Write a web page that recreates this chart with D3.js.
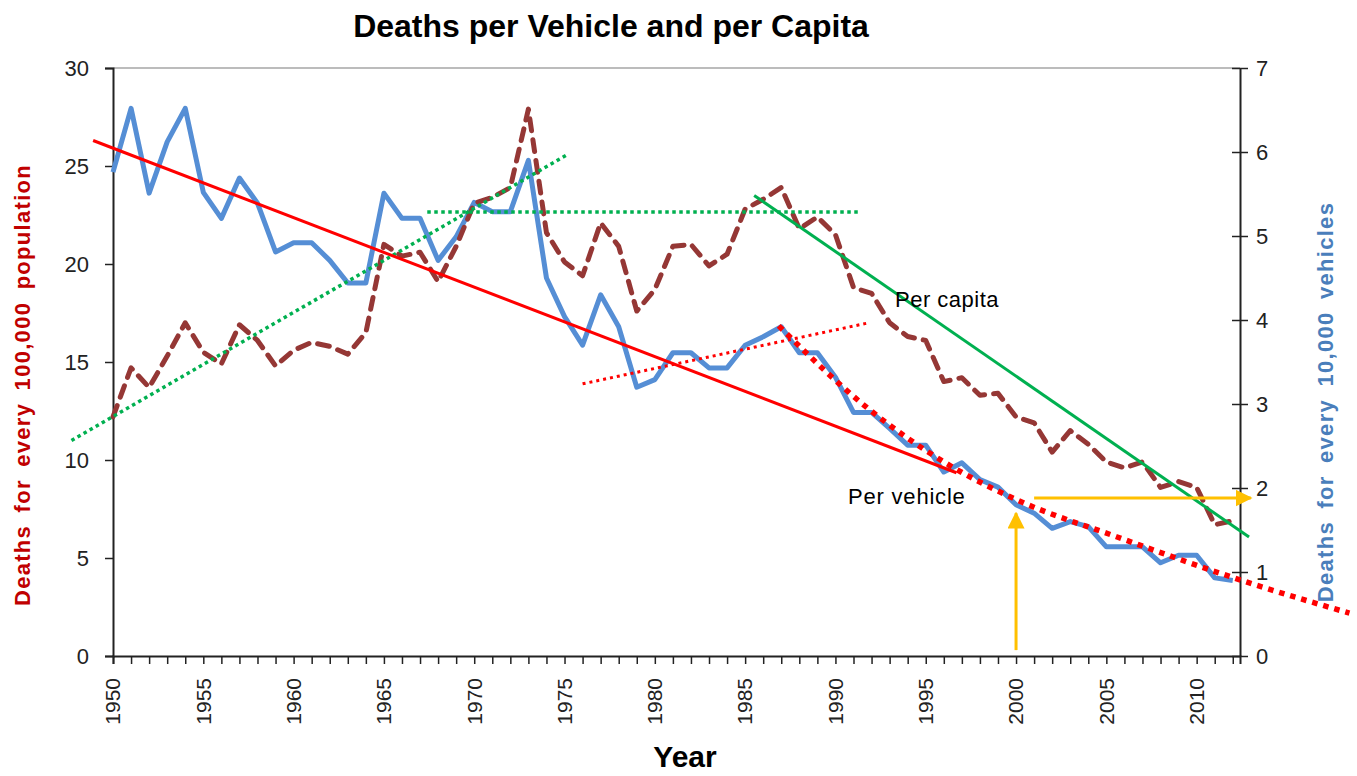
<!DOCTYPE html>
<html>
<head>
<meta charset="utf-8">
<script src="https://cdn.jsdelivr.net/npm/d3@7"></script>
<style>
  body { margin: 0; background: #fff; }
  svg { font-family: "Liberation Sans", Arial, sans-serif; }
</style>
</head>
<body>
<svg width="1357" height="776"></svg>
<script>
// categories
const years = d3.range(1950, 2013);
// deaths per 100,000 population (left axis)
const perCapita = [12.2, 14.7, 13.7, 15.3, 17.0, 15.5, 14.9, 16.9, 16.1, 14.8,
  15.6, 16.0, 15.8, 15.4, 16.5, 21.0, 20.4, 20.6, 19.1, 20.9,
  23.1, 23.4, 23.9, 27.9, 21.6, 20.1, 19.4, 22.1, 20.9, 17.6,
  18.7, 20.9, 21.0, 19.9, 20.5, 22.8, 23.3, 23.9, 21.8, 22.4,
  21.5, 18.8, 18.5, 17.0, 16.3, 16.1, 14.0, 14.2, 13.3, 13.4,
  12.2, 11.9, 10.4, 11.5, 10.8, 9.9, 9.6, 9.9, 8.6, 8.9,
  8.6, 6.7, 6.9];
// deaths per 10,000 vehicles (right axis)
const perVehicle = [5.76, 6.52, 5.51, 6.12, 6.52, 5.52, 5.21, 5.69, 5.39, 4.81,
  4.92, 4.92, 4.71, 4.44, 4.44, 5.51, 5.21, 5.21, 4.71, 4.99,
  5.40, 5.29, 5.29, 5.90, 4.50, 4.04, 3.70, 4.30, 3.92, 3.20,
  3.29, 3.61, 3.61, 3.43, 3.43, 3.70, 3.80, 3.92, 3.61, 3.61,
  3.32, 2.90, 2.90, 2.71, 2.51, 2.51, 2.19, 2.30, 2.10, 2.01,
  1.80, 1.70, 1.52, 1.60, 1.54, 1.30, 1.30, 1.30, 1.11, 1.20,
  1.20, 0.93, 0.90];

const leftTicks = [0, 5, 10, 15, 20, 25, 30];
const rightTicks = [0, 1, 2, 3, 4, 5, 6, 7];
const yearLabels = [1950, 1955, 1960, 1965, 1970, 1975, 1980, 1985, 1990, 1995, 2000, 2005, 2010];

// hand drawn trend lines, [year, value]
const capitaRise = [[1947.7, 11.0], [1975.2, 25.6]];       // left axis
const capitaFlat = [[1967.4, 22.65], [1991.4, 22.65]];     // left axis
const capitaFall = [[1985.5, 23.5], [2012.9, 6.07]];       // left axis
const vehicleFall = [[1948.9, 26.3], [1996.7, 9.35]];      // left axis
const vehicleRise = [[1976.0, 3.24], [1991.7, 3.96]];      // right axis
const vehicleCurve = [[1986.86, 3.93], [1991.73, 2.96], [1996.32, 2.27], [2000.03, 1.86],
  [2005.56, 1.42], [2012.92, 0.87], [2018.46, 0.51]];        // right axis
const arrowUp = [[2000, 0.07], [2000, 1.7]];               // right axis
const arrowRight = [[2001, 1.88], [2013, 1.88]];           // right axis

const svg = d3.select("svg");

const plotLeft = 113, plotRight = 1240, plotTop = 68, plotBottom = 656;

const x = d3.scaleLinear().domain([1950, 2012.4]).range([plotLeft, plotRight]);
const yL = d3.scaleLinear().domain([0, 30]).range([plotBottom, plotTop]);
const yR = d3.scaleLinear().domain([0, 7]).range([plotBottom, plotTop]);

const defs = svg.append("defs");
defs.append("marker")
  .attr("id", "arrow")
  .attr("viewBox", "0 0 10 10")
  .attr("refX", 9)
  .attr("refY", 5)
  .attr("markerUnits", "userSpaceOnUse")
  .attr("markerWidth", 17)
  .attr("markerHeight", 17)
  .attr("orient", "auto")
  .append("path")
  .attr("d", "M0,0L10,5L0,10Z")
  .attr("fill", "#FFC000");

// plot frame top
svg.append("line")
  .attr("x1", plotLeft).attr("x2", plotRight)
  .attr("y1", plotTop).attr("y2", plotTop)
  .attr("stroke", "#a6a6a6")
  .attr("stroke-width", 1.5);

// axes
const xAxis = svg.append("g")
  .attr("transform", `translate(0,${plotBottom})`)
  .call(d3.axisBottom(x).tickValues(years).tickSize(8).tickFormat(""));

const yAxisL = svg.append("g")
  .attr("transform", `translate(${plotLeft},0)`)
  .call(d3.axisLeft(yL).tickValues(leftTicks).tickSize(8).tickFormat(""));

const yAxisR = svg.append("g")
  .attr("transform", `translate(${plotRight},0)`)
  .call(d3.axisRight(yR).tickValues(rightTicks).tickSizeInner(8).tickSizeOuter(0).tickFormat(""));
yAxisR.selectAll(".tick line").attr("x1", -8);

[xAxis, yAxisL, yAxisR].forEach((g) => {
  g.select(".domain").attr("stroke", "#222").attr("stroke-width", 2);
  g.selectAll(".tick line").attr("stroke", "#222").attr("stroke-width", 1.5);
});

// tick labels
svg.append("g")
  .selectAll("text")
  .data(leftTicks)
  .enter()
  .append("text")
  .attr("x", 89)
  .attr("y", (d) => yL(d))
  .attr("dy", "0.35em")
  .attr("text-anchor", "end")
  .attr("font-size", 22)
  .attr("fill", "#222")
  .text((d) => d);

svg.append("g")
  .selectAll("text")
  .data(rightTicks)
  .enter()
  .append("text")
  .attr("x", 1256)
  .attr("y", (d) => yR(d))
  .attr("dy", "0.35em")
  .attr("font-size", 22)
  .attr("fill", "#222")
  .text((d) => d);

svg.append("g")
  .selectAll("text")
  .data(yearLabels)
  .enter()
  .append("text")
  .attr("transform", (d) => `translate(${x(d)},678) rotate(-90)`)
  .attr("dy", "0.35em")
  .attr("text-anchor", "end")
  .attr("font-size", 21)
  .attr("fill", "#222")
  .text((d) => d);

// titles
svg.append("text")
  .attr("x", 611)
  .attr("y", 37)
  .attr("text-anchor", "middle")
  .attr("font-size", 32)
  .attr("font-weight", "bold")
  .text("Deaths per Vehicle and per Capita");

svg.append("text")
  .attr("x", 685)
  .attr("y", 767)
  .attr("text-anchor", "middle")
  .attr("font-size", 30)
  .attr("font-weight", "bold")
  .text("Year");

svg.append("text")
  .attr("transform", "translate(30,385) rotate(-90)")
  .attr("text-anchor", "middle")
  .attr("font-size", 22)
  .attr("font-weight", "bold")
  .attr("letter-spacing", 1.3)
  .attr("word-spacing", 5)
  .attr("fill", "#C00000")
  .text("Deaths for every 100,000 population");

svg.append("text")
  .attr("transform", "translate(1333,402) rotate(-90)")
  .attr("text-anchor", "middle")
  .attr("font-size", 22)
  .attr("font-weight", "bold")
  .attr("letter-spacing", 1.3)
  .attr("word-spacing", 5)
  .attr("fill", "#4A7EBB")
  .text("Deaths for every 10,000 vehicles");

// series
const capitaLine = d3.line()
  .x((d, i) => x(years[i]))
  .y((d) => yL(d));

const vehicleLine = d3.line()
  .x((d, i) => x(years[i]))
  .y((d) => yR(d));

svg.append("path")
  .datum(perVehicle)
  .attr("fill", "none")
  .attr("stroke", "#558ED5")
  .attr("stroke-width", 5)
  .attr("stroke-linejoin", "round")
  .attr("d", vehicleLine);

svg.append("path")
  .datum(perCapita)
  .attr("fill", "none")
  .attr("stroke", "#953735")
  .attr("stroke-width", 5)
  .attr("stroke-dasharray", "12,9")
  .attr("stroke-linecap", "round")
  .attr("stroke-linejoin", "round")
  .attr("d", capitaLine);

// trend lines
const onLeft = d3.line().x((d) => x(d[0])).y((d) => yL(d[1]));
const onRight = d3.line().x((d) => x(d[0])).y((d) => yR(d[1]));

const trends = [
  { pts: capitaRise, line: onLeft, color: "#00B050", width: 3.5, dash: "3.5,3.5" },
  { pts: capitaFlat, line: onLeft, color: "#00B050", width: 3.5, dash: "3.5,3.5" },
  { pts: capitaFall, line: onLeft, color: "#00B050", width: 3, dash: null },
  { pts: vehicleFall, line: onLeft, color: "#FF0000", width: 3, dash: null },
  { pts: vehicleRise, line: onRight, color: "#FF0000", width: 3, dash: "3,4" },
];

svg.append("g")
  .selectAll("path")
  .data(trends)
  .enter()
  .append("path")
  .attr("fill", "none")
  .attr("stroke", (d) => d.color)
  .attr("stroke-width", (d) => d.width)
  .attr("stroke-dasharray", (d) => d.dash)
  .attr("d", (d) => d.line(d.pts));

const curved = d3.line().x((d) => x(d[0])).y((d) => yR(d[1])).curve(d3.curveMonotoneX);
svg.append("path")
  .datum(vehicleCurve)
  .attr("fill", "none")
  .attr("stroke", "#FF0000")
  .attr("stroke-width", 5.5)
  .attr("stroke-dasharray", "5.5,6")
  .attr("d", curved);

// arrows
[arrowUp, arrowRight].forEach((a) => {
  svg.append("path")
    .datum(a)
    .attr("fill", "none")
    .attr("stroke", "#FFC000")
    .attr("stroke-width", 3)
    .attr("marker-end", "url(#arrow)")
    .attr("d", onRight);
});

// labels
svg.append("text")
  .attr("x", 895)
  .attr("y", 307)
  .attr("font-size", 22)
  .attr("letter-spacing", 0.5)
  .text("Per capita");

svg.append("text")
  .attr("x", 848)
  .attr("y", 504)
  .attr("font-size", 22)
  .attr("letter-spacing", 0.8)
  .text("Per vehicle");
</script>
</body>
</html>
